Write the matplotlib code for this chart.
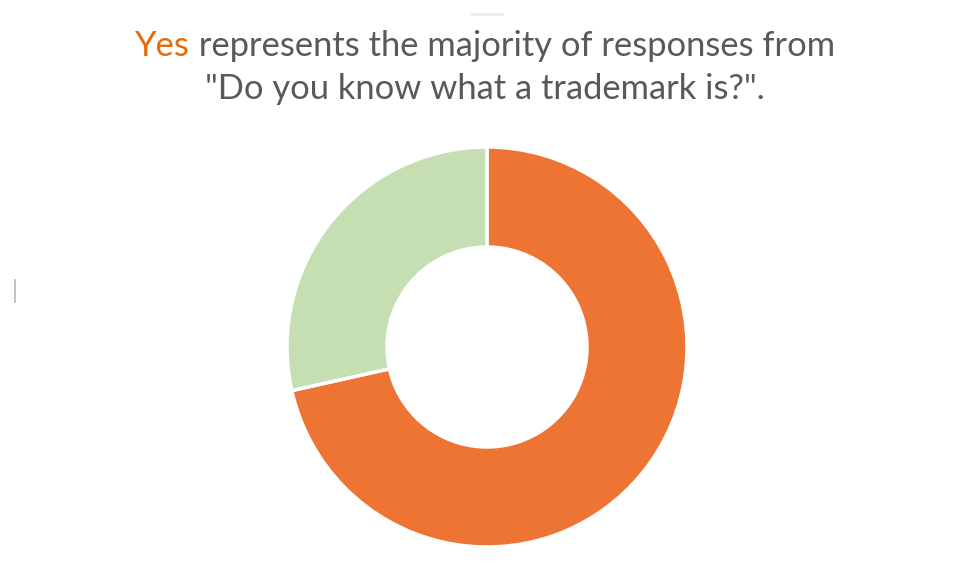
import matplotlib
matplotlib.use("Agg")
import matplotlib.pyplot as plt

# Responses to "Do you know what a trademark is?"
labels = ["Yes", "No"]
shares = [71.5, 28.5]
colors = ["#ED7432", "#C5DFB3"]

title_hl = "Yes"
title_rest = " represents the majority of responses from"
title_line2 = '"Do you know what a trademark is?".'

plt.rcParams['font.family'] = ['Lato', 'DejaVu Sans']

fig = plt.figure(figsize=(9.56, 5.67), dpi=100)
fig.patch.set_facecolor("white")

# donut
ax = fig.add_axes([287 / 956, 20 / 567, 400 / 956, 400 / 567])
ax.pie(shares, colors=colors, startangle=90, counterclock=False,
       radius=1.0, wedgeprops=dict(width=0.5, edgecolor="white", linewidth=2.5))
ax.set_xlim(-1, 1)
ax.set_ylim(-1, 1)
ax.set_aspect("equal")
ax.axis("off")

# title with highlighted word
fs = 24.8
gray = "#595959"
orange = "#E36C0A"
renderer = fig.canvas.get_renderer()
t1 = fig.text(0, 0, title_hl, fontsize=fs, color=orange, va="baseline")
t2 = fig.text(0, 0, title_rest, fontsize=fs, color=gray, va="baseline")
w1 = t1.get_window_extent(renderer).width
w2 = t2.get_window_extent(renderer).width
cx = 485
y1 = 1 - 56 / 567
x0 = cx - (w1 + w2) / 2
t1.set_position((x0 / 956, y1))
t2.set_position(((x0 + w1) / 956, y1))
fig.text(cx / 956, 1 - 99 / 567, title_line2, fontsize=fs, color=gray,
         ha="center", va="baseline")

# faint edge marks from the original screenshot
fig.add_artist(plt.Line2D([15 / 956, 15 / 956], [1 - 280 / 567, 1 - 302 / 567],
                          color="#9a9a9a", linewidth=1.2, alpha=0.7))
fig.add_artist(plt.Line2D([472 / 956, 502 / 956], [1 - 14 / 567, 1 - 14 / 567],
                          color="#e6e6e6", linewidth=2, alpha=0.8))

fig.savefig("out.png", dpi=100, facecolor="white")
